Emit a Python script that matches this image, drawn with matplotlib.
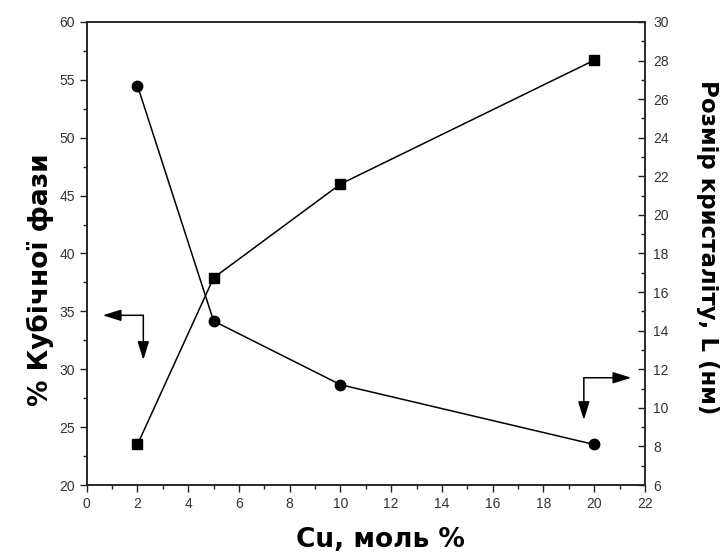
import matplotlib
matplotlib.use("Agg")
import matplotlib.pyplot as plt
from matplotlib.ticker import MultipleLocator

# Data
cu_mol = [2, 5, 10, 20]
cubic_phase = [23.5, 37.9, 46.0, 56.7]        # % cubic phase (left axis)
crystallite_size = [26.7, 14.5, 11.2, 8.1]    # crystallite size, nm (right axis)

x_ticks = list(range(0, 23, 2))
left_ticks = list(range(20, 61, 5))
right_ticks = list(range(6, 31, 2))

plt.rcParams['font.family'] = ['Liberation Sans', 'DejaVu Sans']

fig = plt.figure(figsize=(7.27, 5.55), dpi=100)
ax = fig.add_axes([0.1193, 0.1261, 0.8872 - 0.1193, 0.9604 - 0.1261])
ax2 = ax.twinx()

tick_color = '#333333'

# Left axis: cubic phase
ax.plot(cu_mol, cubic_phase, color='black', lw=1.1, marker='s', ms=7.5,
        markerfacecolor='black', markeredgecolor='black', zorder=3)
ax.set_xlim(0, 22)
ax.set_ylim(20, 60)
ax.set_xticks(x_ticks)
ax.set_yticks(left_ticks)
ax.xaxis.set_minor_locator(MultipleLocator(1))
ax.yaxis.set_minor_locator(MultipleLocator(2.5))
ax.tick_params(axis='both', which='major', direction='out', length=5, width=1,
               labelsize=10, labelcolor=tick_color, color='#222222')
ax.tick_params(axis='both', which='minor', direction='out', length=3, width=1,
               color='#222222')
ax.tick_params(axis='x', top=False, which='both')
ax.tick_params(axis='y', right=False, which='both')

# Right axis: crystallite size
ax2.plot(cu_mol, crystallite_size, color='black', lw=1.1, marker='o', ms=7.5,
         markerfacecolor='black', markeredgecolor='black', zorder=3)
ax2.set_ylim(6, 30)
ax2.set_yticks(right_ticks)
ax2.yaxis.set_minor_locator(MultipleLocator(1))
ax2.tick_params(axis='y', which='major', direction='in', length=5, width=1,
                labelsize=10, labelcolor=tick_color, color='#222222', pad=6)
ax2.tick_params(axis='y', which='minor', direction='in', length=3, width=1,
                color='#222222')

for a in (ax, ax2):
    for s in a.spines.values():
        s.set_linewidth(1.1)
        s.set_color('#222222')

# Axis indicator arrows
arrow_kw = dict(arrowstyle='-|>,head_length=0.8,head_width=0.25', lw=1.1,
                color='black', mutation_scale=14, shrinkA=0, shrinkB=0)
left_corner = (2.23, 34.66)
left_h_tip = (0.63, 34.66)
left_v_tip = (2.23, 30.8)
ax.annotate('', xy=left_h_tip, xytext=left_corner, arrowprops=arrow_kw)
ax.annotate('', xy=left_v_tip, xytext=left_corner, arrowprops=arrow_kw)

right_corner = (19.59, 11.56)
right_h_tip = (21.46, 11.56)
right_v_tip = (19.59, 9.37)
ax2.annotate('', xy=right_h_tip, xytext=right_corner, arrowprops=arrow_kw)
ax2.annotate('', xy=right_v_tip, xytext=right_corner, arrowprops=arrow_kw)

# Axis titles
label_kw = dict(fontweight='bold', color='black', family=['DejaVu Sans'])
fig.text(380 / 727, 1 - 540 / 555, 'Cu, моль %', ha='center', va='center',
         fontsize=19, **label_kw)
fig.text(40 / 727, 1 - 280 / 555, '% Кубічної фази', ha='center', va='center',
         rotation=90, fontsize=19, **label_kw)
fig.text(708 / 727, 1 - 247 / 555, 'Розмір кристаліту, L (нм)', ha='center',
         va='center', rotation=270, fontsize=16.5, **label_kw)

fig.savefig('out.png', dpi=100)
